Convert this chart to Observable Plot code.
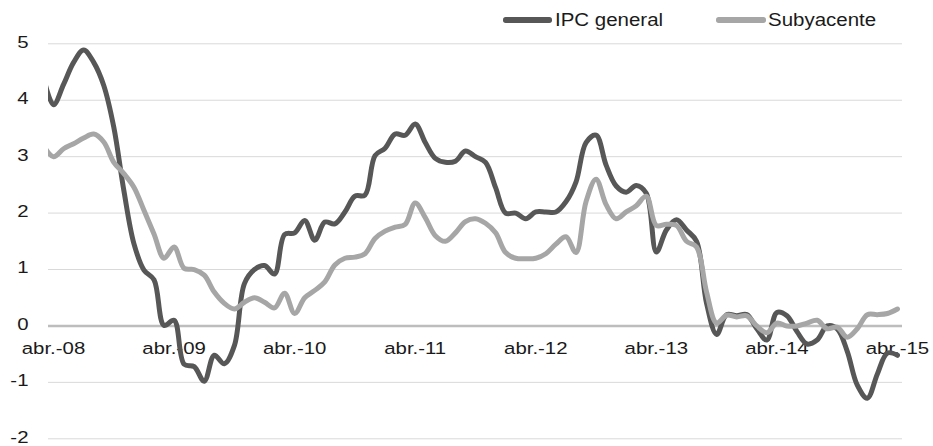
<!DOCTYPE html>
<html>
<head>
<meta charset="utf-8">
<script src="https://cdn.jsdelivr.net/npm/d3@7"></script>
<script src="https://cdn.jsdelivr.net/npm/@observablehq/plot@0.6"></script>
<style>
  html, body { margin: 0; padding: 0; background: #fff; }
  #wrap { position: relative; width: 933px; height: 446px; font-family: "Liberation Sans", Arial, sans-serif; }
  #legend { position: relative; width: 933px; height: 24px; overflow: visible; z-index: 2; }
  #legend .sw { position: absolute; height: 5.3px; border-radius: 2.65px; top: 17.35px; }
  #legend .lab { position: absolute; top: 11.86px; font-size: 17.5px; line-height: 17.5px; color: #1a1a1a;
                 white-space: nowrap; transform: scaleX(1.17); transform-origin: 0 50%; }
  #chart svg { display: block; }
</style>
</head>
<body>
<div id="wrap">
  <div id="legend"></div>
  <div id="chart"></div>
</div>
<script>
// Monthly series, March 2008 (index 0) to April 2015 (index 85), % year on year
const seriesNames = ["IPC general", "Subyacente"];
const ipcGeneral = [
  4.4, 3.92, 4.28, 4.67, 4.89, 4.67, 4.26, 3.52, 2.4, 1.46,
  0.99, 0.82, 0.01, 0.1, -0.68, -0.72, -0.98, -0.52, -0.67, -0.35,
  0.75, 1.0, 1.07, 0.92, 1.62, 1.65, 1.87, 1.52, 1.84, 1.81,
  2.02, 2.3, 2.32, 3.02, 3.15, 3.4, 3.38, 3.58, 3.25, 2.97,
  2.9, 2.92, 3.1, 3.0, 2.9, 2.45, 2.0, 2.0, 1.9, 2.02,
  2.02, 2.02, 2.2, 2.55, 3.25, 3.38, 2.85, 2.48, 2.37, 2.49,
  2.35, 1.31, 1.7, 1.88, 1.7, 1.5, 0.4, -0.15, 0.2, 0.18,
  0.2, -0.05, -0.25, 0.24, 0.18, -0.1, -0.32, -0.25, 0.0, -0.05,
  -0.45, -1.05, -1.28, -0.85, -0.48, -0.52
];
const subyacente = [
  3.2, 3.0, 3.14, 3.23, 3.33, 3.4, 3.26, 2.9, 2.7, 2.46,
  2.05, 1.63, 1.2, 1.4, 1.02, 1.0, 0.9, 0.6, 0.4, 0.3,
  0.42, 0.5, 0.42, 0.32, 0.58, 0.22, 0.5, 0.63, 0.78, 1.08,
  1.2, 1.22, 1.28, 1.55, 1.68, 1.75, 1.8, 2.18, 1.92, 1.6,
  1.5, 1.65, 1.85, 1.9, 1.82, 1.65, 1.3, 1.2, 1.19, 1.2,
  1.28, 1.45, 1.58, 1.3, 2.2, 2.6, 2.15, 1.9, 2.02, 2.13,
  2.3, 1.78, 1.8, 1.78, 1.5, 1.4, 0.6, 0.05, 0.19, 0.16,
  0.18, 0.0, -0.12, 0.05, 0.0, 0.0, 0.05, 0.1, -0.05, -0.02,
  -0.2, -0.05, 0.2, 0.2, 0.22, 0.3
];
const xTickLabels = ["abr.-08", "abr.-09", "abr.-10", "abr.-11", "abr.-12", "abr.-13", "abr.-14", "abr.-15"];
const yTicks = [-2, -1, 0, 1, 2, 3, 4, 5];
const yTickLabels = ["-2", "-1", "0", "1", "2", "3", "4", "5"];

const colors = ["#575757", "#a6a6a6"];
const ipcData = ipcGeneral.map((v, i) => ({i, v}));
const subData = subyacente.map((v, i) => ({i, v}));
const xTickData = xTickLabels.map((label, k) => ({label, i: 1 + 12 * k}));
const yTickData = yTicks.map((v, k) => ({v, label: yTickLabels[k]}));

const plot = Plot.plot({
  width: 933,
  height: 422,
  marginLeft: 48,
  marginRight: 31,
  marginTop: 19.3,
  marginBottom: 7.7,
  style: {fontFamily: '"Liberation Sans", Arial, sans-serif', fontSize: "17px", color: "#1a1a1a", background: "transparent"},
  x: {domain: [0.5, ipcGeneral.length - 0.5], axis: null},
  y: {domain: [yTicks[0], yTicks[yTicks.length - 1]], axis: null},
  marks: [
    Plot.ruleY(yTicks.filter(d => d !== 0), {stroke: "#d9d9d9", strokeWidth: 1}),
    Plot.ruleY([0], {stroke: "#bdbdbd", strokeWidth: 2.5}),
    Plot.text(yTickData, {y: "v", text: "label", frameAnchor: "left", textAnchor: "end", dx: -20, dy: -1.5, fill: "#1a1a1a"}),
    Plot.text(xTickData, {x: "i", y: () => 0, text: "label", dy: 23, fill: "#1a1a1a"}),
    Plot.line(ipcData, {x: "i", y: "v", stroke: colors[0], strokeWidth: 5, curve: "catmull-rom", strokeLinecap: "round", strokeLinejoin: "round", clip: true}),
    Plot.line(subData, {x: "i", y: "v", stroke: colors[1], strokeWidth: 5, curve: "catmull-rom", strokeLinecap: "round", strokeLinejoin: "round", clip: true})
  ]
});
document.getElementById("chart").appendChild(plot);

// Legend (line swatches + labels), HTML above the chart
const legend = d3.select("#legend");
const legendItems = [
  {name: seriesNames[0], color: colors[0], x0: 503, x1: 552, tx: 554.5},
  {name: seriesNames[1], color: colors[1], x0: 716, x1: 766, tx: 767.5}
];
for (const it of legendItems) {
  legend.append("div").attr("class", "sw")
    .style("left", it.x0 + "px").style("width", (it.x1 - it.x0) + "px").style("background", it.color);
  legend.append("span").attr("class", "lab").style("left", it.tx + "px").text(it.name);
}

// Widen glyphs horizontally, as in the reference, keeping each label's anchor fixed
function stretch(root, sx) {
  root.querySelectorAll("text").forEach(t => {
    const b = t.getBBox();
    const anchor = getComputedStyle(t).textAnchor;
    const px = anchor === "end" ? b.x + b.width : anchor === "middle" ? b.x + b.width / 2 : b.x;
    const prev = t.getAttribute("transform") || "";
    t.setAttribute("transform", `${prev} translate(${px},0) scale(${sx},1) translate(${-px},0)`);
  });
}
stretch(plot, 1.2);
</script>
</body>
</html>
